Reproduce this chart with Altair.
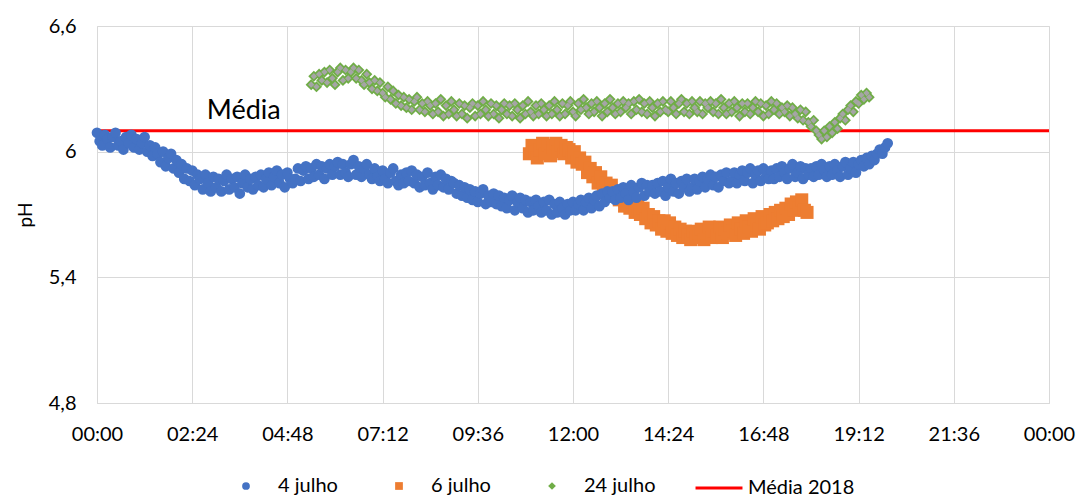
import altair as alt
import pandas as pd

# pH readings, one every 4 minutes, starting at the given minute of the day
PASSO = 4

inicio_4 = 0
ph_4_julho = [
    6.09, 6.05, 6.03, 6.08, 6.06, 6.02, 6.07, 6.09, 6.03, 6.05, 6.01, 6.07, 6.04, 6.08, 6.02,
    6.06, 6.01, 6.04, 6.07, 6.00, 6.03, 5.98, 6.02, 5.99, 5.95, 6.00, 5.93, 5.97, 5.99, 5.92,
    5.96, 5.90, 5.94, 5.87, 5.92, 5.86, 5.91, 5.84, 5.89, 5.87, 5.82, 5.89, 5.85, 5.81, 5.88,
    5.83, 5.87, 5.81, 5.86, 5.89, 5.82, 5.87, 5.83, 5.88, 5.80, 5.85, 5.89, 5.83, 5.87, 5.82,
    5.88, 5.84, 5.89, 5.83, 5.87, 5.90, 5.84, 5.88, 5.91, 5.85, 5.89, 5.83, 5.90, 5.87, 5.85,
    5.87, 5.92, 5.86, 5.91, 5.93, 5.87, 5.92, 5.88, 5.94, 5.89, 5.93, 5.87, 5.92, 5.94, 5.89,
    5.93, 5.95, 5.89, 5.94, 5.90, 5.88, 5.94, 5.96, 5.89, 5.93, 5.88, 5.92, 5.94, 5.89, 5.87,
    5.92, 5.88, 5.86, 5.91, 5.87, 5.85, 5.90, 5.92, 5.86, 5.84, 5.89, 5.85, 5.90, 5.86, 5.91,
    5.85, 5.89, 5.83, 5.88, 5.84, 5.90, 5.85, 5.82, 5.88, 5.84, 5.89, 5.83, 5.87, 5.82, 5.86,
    5.85, 5.80, 5.84, 5.79, 5.83, 5.78, 5.82, 5.77, 5.81, 5.76, 5.80, 5.82, 5.75, 5.79, 5.76,
    5.80, 5.75, 5.79, 5.74, 5.78, 5.73, 5.77, 5.79, 5.72, 5.76, 5.78, 5.73, 5.77, 5.71, 5.76,
    5.72, 5.77, 5.74, 5.71, 5.76, 5.72, 5.77, 5.70, 5.75, 5.71, 5.76, 5.73, 5.70, 5.75, 5.72,
    5.76, 5.72, 5.75, 5.77, 5.72, 5.76, 5.78, 5.73, 5.77, 5.79, 5.74, 5.80, 5.76, 5.81, 5.78,
    5.81, 5.77, 5.82, 5.78, 5.83, 5.80, 5.77, 5.84, 5.81, 5.78, 5.83, 5.85, 5.79, 5.84, 5.81,
    5.84, 5.80, 5.85, 5.81, 5.86, 5.79, 5.83, 5.87, 5.81, 5.85, 5.80, 5.86, 5.83, 5.87, 5.81,
    5.83, 5.87, 5.82, 5.86, 5.88, 5.83, 5.87, 5.89, 5.84, 5.88, 5.83, 5.89, 5.86, 5.90, 5.85,
    5.86, 5.90, 5.85, 5.89, 5.91, 5.86, 5.90, 5.92, 5.85, 5.89, 5.91, 5.86, 5.92, 5.88, 5.87,
    5.91, 5.87, 5.92, 5.88, 5.93, 5.90, 5.87, 5.92, 5.94, 5.88, 5.90, 5.93, 5.87, 5.92, 5.89,
    5.92, 5.88, 5.93, 5.89, 5.94, 5.91, 5.88, 5.93, 5.89, 5.94, 5.91, 5.88, 5.93, 5.95, 5.89,
    5.92, 5.95, 5.90, 5.94, 5.96, 5.93, 5.97, 5.94, 5.98, 5.96, 5.99, 6.01, 5.99, 6.02, 6.04,
]

inicio_6 = 654
ph_6_julho = [
    5.99, 6.03, 6.00, 5.97, 6.01, 6.04, 5.99, 6.03, 5.98, 6.02, 6.04, 6.00, 6.03, 5.99, 6.02,
    6.01, 5.97, 6.00, 5.95, 5.97, 5.94, 5.95, 5.90, 5.92, 5.88, 5.90, 5.85, 5.88, 5.83, 5.85,
    5.83, 5.84, 5.79, 5.81, 5.77, 5.79, 5.74, 5.78, 5.73, 5.76, 5.71, 5.74, 5.70, 5.73, 5.68,
    5.70, 5.66, 5.69, 5.65, 5.67, 5.63, 5.67, 5.62, 5.66, 5.61, 5.64, 5.60, 5.63, 5.59, 5.62,
    5.60, 5.58, 5.62, 5.59, 5.61, 5.63, 5.58, 5.61, 5.64, 5.59, 5.62, 5.60, 5.64, 5.59, 5.63,
    5.61, 5.65, 5.62, 5.60, 5.66, 5.63, 5.61, 5.67, 5.64, 5.62, 5.68, 5.65, 5.63, 5.69, 5.65,
    5.66, 5.70, 5.67, 5.71, 5.68, 5.72, 5.69, 5.73, 5.70, 5.75, 5.72, 5.76, 5.73, 5.77, 5.72,
    5.71,
]

inicio_24 = 324
ph_24_julho = [
    6.32, 6.36, 6.31, 6.37, 6.34, 6.38, 6.33, 6.39, 6.35, 6.32, 6.38, 6.40, 6.34, 6.39, 6.35,
    6.38, 6.40, 6.35, 6.39, 6.34, 6.32, 6.37, 6.33, 6.30, 6.34, 6.29, 6.33, 6.28, 6.26, 6.31,
    6.25, 6.29, 6.23, 6.27, 6.22, 6.26, 6.21, 6.25, 6.20, 6.24, 6.26, 6.20, 6.23, 6.19, 6.24,
    6.22, 6.18, 6.23, 6.19, 6.25, 6.17, 6.22, 6.18, 6.24, 6.20, 6.17, 6.23, 6.18, 6.22, 6.16,
    6.21, 6.23, 6.17, 6.22, 6.18, 6.24, 6.20, 6.17, 6.23, 6.18, 6.22, 6.16, 6.20, 6.23, 6.18,
    6.22, 6.17, 6.23, 6.20, 6.16, 6.22, 6.18, 6.24, 6.19, 6.17, 6.22, 6.18, 6.23, 6.20, 6.17,
    6.22, 6.18, 6.24, 6.20, 6.17, 6.23, 6.18, 6.22, 6.24, 6.19, 6.17, 6.23, 6.20, 6.25, 6.21,
    6.18, 6.23, 6.19, 6.24, 6.21, 6.17, 6.23, 6.19, 6.25, 6.21, 6.18, 6.23, 6.19, 6.24, 6.21,
    6.23, 6.18, 6.24, 6.20, 6.25, 6.19, 6.23, 6.18, 6.24, 6.21, 6.17, 6.23, 6.19, 6.24, 6.20,
    6.19, 6.24, 6.21, 6.18, 6.23, 6.25, 6.19, 6.23, 6.18, 6.24, 6.21, 6.19, 6.24, 6.18, 6.23,
    6.21, 6.24, 6.19, 6.23, 6.18, 6.25, 6.21, 6.18, 6.23, 6.19, 6.24, 6.21, 6.17, 6.23, 6.19,
    6.23, 6.18, 6.21, 6.24, 6.19, 6.23, 6.17, 6.22, 6.18, 6.24, 6.20, 6.23, 6.18, 6.21, 6.19,
    6.22, 6.17, 6.21, 6.18, 6.16, 6.20, 6.15, 6.19, 6.14, 6.12, 6.15, 6.10, 6.08, 6.06, 6.10,
    6.07, 6.12, 6.09, 6.14, 6.11, 6.16, 6.18, 6.15, 6.20, 6.22, 6.19, 6.24, 6.23, 6.27, 6.25,
    6.28, 6.26,
]

media_2018 = 6.10

series = ["4 julho", "6 julho", "24 julho"]
cores = ["#4472C4", "#ED7D31", "#70AD47"]
formas = ["circle", "square", "diamond"]
cor_miolo = "#A5A5A5"

x_ticks = [0, 144, 288, 432, 576, 720, 864, 1008, 1152, 1296, 1440]
y_ticks = [4.8, 5.4, 6.0, 6.6]


def tabela(nome, inicio, valores):
    return pd.DataFrame({
        "minuto": [inicio + PASSO * i for i in range(len(valores))],
        "ph": valores,
        "serie": nome,
    })


FONTE = "Lato"
TAM = 20
escala_x = alt.Scale(domain=[0, 1440], nice=False)
escala_y = alt.Scale(domain=[4.8, 6.6], nice=False, zero=False)

x_enc = alt.X(
    "minuto:Q",
    scale=escala_x,
    axis=alt.Axis(
        values=x_ticks, title=None, grid=True, ticks=False,
        labelExpr="pad(toString(floor(datum.value / 60) % 24), 2, '0', 'left') + ':' + "
                  "pad(toString(datum.value % 60), 2, '0', 'left')",
        labelPadding=21, labelFontSize=TAM, labelFont=FONTE, labelColor="#000000",
        domainColor="#D9D9D9", gridColor="#D9D9D9", labelFlush=False,
    ),
)
y_axis = alt.Axis(
    values=y_ticks, title="pH", grid=True, ticks=False, domain=False,
    labelExpr="replace(format(datum.value, '.1~f'), '.', ',')",
    labelPadding=21, labelFontSize=TAM, labelFont=FONTE, labelColor="#000000",
    titleFont=FONTE, titleFontSize=19, titleFontWeight="normal", titlePadding=13,
    gridColor="#D9D9D9",
)

legenda_pontos = alt.Legend(
    title=None, orient="none", direction="horizontal", legendX=139, legendY=450,
    labelFont=FONTE, labelFontSize=TAM, labelColor="#000000", symbolSize=60,
    labelOffset=22, columnPadding=51,
)
cor_enc = alt.Color("serie:N", scale=alt.Scale(domain=series, range=cores),
                    legend=legenda_pontos)
forma_enc = alt.Shape("serie:N", scale=alt.Scale(domain=series, range=formas),
                      legend=legenda_pontos)


def serie_pontos(dados, tamanho, eixos=False):
    return alt.Chart(dados).mark_point(filled=True, opacity=1, size=tamanho).encode(
        x=x_enc if eixos else alt.X("minuto:Q", scale=escala_x),
        y=alt.Y("ph:Q", scale=escala_y, axis=y_axis) if eixos
        else alt.Y("ph:Q", scale=escala_y),
        color=cor_enc,
        shape=forma_enc,
    )


# orange first so the blue band sits above it where they cross
camada_6 = serie_pontos(tabela("6 julho", inicio_6, ph_6_julho), 170, eixos=True)
camada_4 = serie_pontos(tabela("4 julho", inicio_4, ph_4_julho), 115)
camada_24 = serie_pontos(tabela("24 julho", inicio_24, ph_24_julho), 125)

# grey centres of the 24 julho diamonds
miolos = alt.Chart(tabela("24 julho", inicio_24, ph_24_julho)).mark_point(
    filled=True, shape="diamond", size=40, color=cor_miolo, opacity=1
).encode(
    x=alt.X("minuto:Q", scale=escala_x),
    y=alt.Y("ph:Q", scale=escala_y),
)

# legend swatch: a 47 px horizontal stroke (path scaled by sqrt(size) / 2)
media_df = pd.DataFrame({"ph": [media_2018], "nome": ["Média 2018"]})
linha_media = alt.Chart(media_df).mark_rule(strokeWidth=3).encode(
    y=alt.Y("ph:Q", scale=escala_y),
    stroke=alt.Stroke(
        "nome:N", scale=alt.Scale(domain=["Média 2018"], range=["#FF0000"]),
        legend=alt.Legend(
            title=None, orient="none", direction="horizontal", legendX=612, legendY=452,
            symbolType="M-3,0H3", symbolSize=245, symbolStrokeWidth=3,
            labelFont=FONTE, labelFontSize=TAM, labelColor="#000000", labelOffset=19,
        ),
    ),
)

rotulo_df = pd.DataFrame({"minuto": [166], "ph": [6.127], "texto": ["Média"]})
rotulo = alt.Chart(rotulo_df).mark_text(
    align="left", baseline="bottom", font=FONTE, fontSize=27, color="#000000"
).encode(
    x=alt.X("minuto:Q", scale=escala_x),
    y=alt.Y("ph:Q", scale=escala_y),
    text="texto:N",
)

chart = alt.layer(linha_media, camada_6, camada_4, camada_24, miolos, rotulo).properties(
    width=952, height=377,
    autosize=alt.AutoSizeParams(type="none"),
    padding={"left": 97, "top": 26, "right": 31, "bottom": 94},
).configure_view(stroke=None).configure(background="#FFFFFF")

chart.save("out.html", embed_options={"renderer": "svg", "actions": False})
